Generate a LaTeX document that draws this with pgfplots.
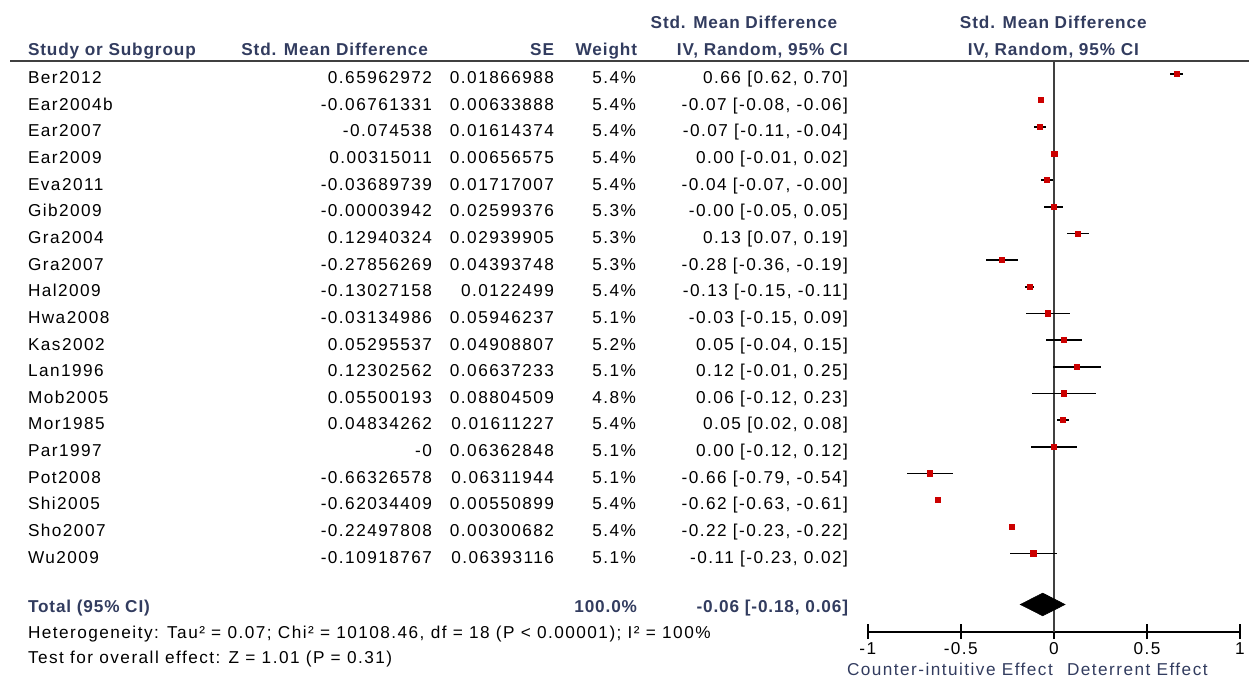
\documentclass[border=0pt]{standalone}
\usepackage{pgfplots}
\pgfplotsset{compat=1.18}
\usepackage{pgfplotstable}
\usepackage{fontspec}
\setmainfont{Liberation Sans}[LetterSpace=8.5, BoldFeatures={LetterSpace=5}]
\definecolor{hdr}{RGB}{50,60,95}
\definecolor{mk}{RGB}{204,0,0}
\definecolor{rulec}{RGB}{64,64,64}
\newcommand\tf{\fontsize{8.6pt}{10pt}\selectfont}

% row (negative index), mean, half-width of 95% CI (1.96*SE)
\pgfplotstableread{
r m e
-1 0.65962972 0.036593
-2 -0.06761331 0.012424
-3 -0.074538 0.031642
-4 0.00315011 0.012869
-5 -0.03689739 0.033653
-6 -0.00003942 0.050948
-7 0.12940324 0.057622
-8 -0.27856269 0.086117
-9 -0.13027158 0.024010
-10 -0.03134986 0.116546
-11 0.05295537 0.096213
-12 0.12302562 0.130090
-13 0.05500193 0.172568
-14 0.04834262 0.031580
-15 0 0.124712
-16 -0.66326578 0.123714
-17 -0.62034409 0.010798
-18 -0.22497808 0.005893
-19 -0.10918767 0.125305
}\studies

\begin{document}
\begin{tikzpicture}
\begin{axis}[at={(433.85pt,-315.85pt)}, anchor=south west, scale only axis,
  width=186.15pt, height=285.35pt,
  xmin=-1, xmax=1, ymin=-21.938, ymax=-0.5235,
  axis x line*=bottom, axis y line=none,
  x axis line style={line width=0.9pt, black},
  xtick={-1,-0.5,0,0.5,1}, xticklabels={-1,-0.5,0,0.5,1},
  tick align=center, major tick length=7.5pt,
  tick style={line width=0.9pt, black},
  xticklabel style={font=\tf, anchor=base, inner sep=0pt, yshift=-7.5pt},
  clip=false]
\addplot[rulec, line width=1pt] coordinates {(0,-0.5235) (0,-21.938)};
\addplot[only marks, mark=square*, mark size=1.3pt, color=mk,
  mark options={fill=mk, draw=mk, line width=0pt},
  error bars/.cd, x dir=both, x explicit, error mark=none,
  error bar style={black, line width=0.85pt}]
  table[x=m, y=r, x error=e] {\studies};
\addplot[fill=black, draw=black, line width=0.3pt] coordinates {(-0.18,-20.917) (-0.06,-20.49) (0.06,-20.917) (-0.06,-21.34)} -- cycle;
\end{axis}

\begin{scope}[x=0.5pt,y=-0.5pt,every node/.style={font=\tf,inner sep=0pt,outer sep=0pt}]
% headers
\node[anchor=base, text=hdr, font=\tf\bfseries] at (744,28.3) {Std. Mean Difference};
\node[anchor=base, text=hdr, font=\tf\bfseries] at (1053.3,28.3) {Std. Mean Difference};
\node[anchor=base west, text=hdr, font=\tf\bfseries] at (28,55) {Study or Subgroup};
\node[anchor=base east, text=hdr, font=\tf\bfseries] at (428,55) {Std. Mean Difference};
\node[anchor=base east, text=hdr, font=\tf\bfseries] at (554,55) {SE};
\node[anchor=base east, text=hdr, font=\tf\bfseries] at (637,55) {Weight};
\node[anchor=base east, text=hdr, font=\tf\bfseries] at (848,55) {IV, Random, 95\% CI};
\node[anchor=base, text=hdr, font=\tf\bfseries] at (1053.3,55) {IV, Random, 95\% CI};
\draw[rulec, line width=1pt] (10,61) -- (1249,61);

% rows
\foreach \n/\m/\s/\w/\c [count=\i] in {
Ber2012/0.65962972/0.01866988/5.4/{0.66 [0.62, 0.70]},
Ear2004b/-0.06761331/0.00633888/5.4/{-0.07 [-0.08, -0.06]},
Ear2007/-0.074538/0.01614374/5.4/{-0.07 [-0.11, -0.04]},
Ear2009/0.00315011/0.00656575/5.4/{0.00 [-0.01, 0.02]},
Eva2011/-0.03689739/0.01717007/5.4/{-0.04 [-0.07, -0.00]},
Gib2009/-0.00003942/0.02599376/5.3/{-0.00 [-0.05, 0.05]},
Gra2004/0.12940324/0.02939905/5.3/{0.13 [0.07, 0.19]},
Gra2007/-0.27856269/0.04393748/5.3/{-0.28 [-0.36, -0.19]},
Hal2009/-0.13027158/0.0122499/5.4/{-0.13 [-0.15, -0.11]},
Hwa2008/-0.03134986/0.05946237/5.1/{-0.03 [-0.15, 0.09]},
Kas2002/0.05295537/0.04908807/5.2/{0.05 [-0.04, 0.15]},
Lan1996/0.12302562/0.06637233/5.1/{0.12 [-0.01, 0.25]},
Mob2005/0.05500193/0.08804509/4.8/{0.06 [-0.12, 0.23]},
Mor1985/0.04834262/0.01611227/5.4/{0.05 [0.02, 0.08]},
Par1997/-0/0.06362848/5.1/{0.00 [-0.12, 0.12]},
Pot2008/-0.66326578/0.06311944/5.1/{-0.66 [-0.79, -0.54]},
Shi2005/-0.62034409/0.00550899/5.4/{-0.62 [-0.63, -0.61]},
Sho2007/-0.22497808/0.00300682/5.4/{-0.22 [-0.23, -0.22]},
Wu2009/-0.10918767/0.06393116/5.1/{-0.11 [-0.23, 0.02]}}{
  \pgfmathsetmacro\yy{83.5+26.65*(\i-1)}
  \node[anchor=base west] at (28,\yy) {\n};
  \node[anchor=base east] at (432,\yy) {\m};
  \node[anchor=base east] at (554,\yy) {\s};
  \node[anchor=base east] at (636,\yy) {\w\%};
  \node[anchor=base east] at (848,\yy) {\c};
}

% total
\node[anchor=base west, text=hdr, font=\tf\bfseries] at (28,612) {Total (95\% CI)};
\node[anchor=base east, text=hdr, font=\tf\bfseries] at (637,612) {100.0\%};
\node[anchor=base east, text=hdr, font=\tf\bfseries] at (848,612) {-0.06 [-0.18, 0.06]};
\node[anchor=base west] at (28,638) {Heterogeneity: Tau² = 0.07; Chi² = 10108.46, df = 18 (P < 0.00001); I² = 100\%};
\node[anchor=base west] at (28,663) {Test for overall effect: Z = 1.01 (P = 0.31)};

% effect direction labels
\node[anchor=base west, text=hdr] at (847,675.5) {Counter-intuitive Effect};
\node[anchor=base west, text=hdr] at (1067,675.5) {Deterrent Effect};

\pgfresetboundingbox
\useasboundingbox (0,0) rectangle (1249,677);
\end{scope}
\end{tikzpicture}
\end{document}
